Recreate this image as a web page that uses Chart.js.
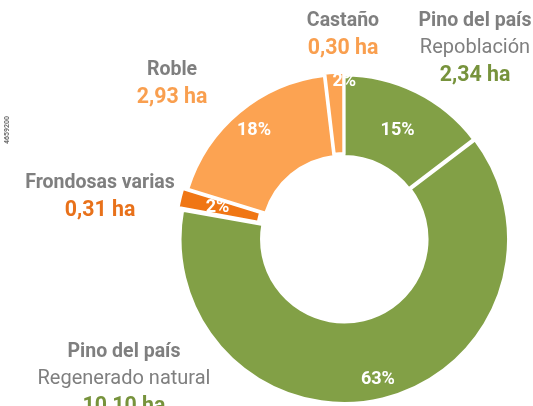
<!DOCTYPE html>
<html>
<head>
<meta charset="utf-8">
<script src="https://cdn.jsdelivr.net/npm/chart.js@4"></script>
<style>
  html, body { margin: 0; padding: 0; background: #fff; }
  #grafico { display: block; }
</style>
</head>
<body>
<canvas id="grafico" width="533" height="406"></canvas>
<script>
// datos (ha)
var especies = ['Pino del país|Repoblación', 'Pino del país|Regenerado natural', 'Frondosas varias', 'Roble', 'Castaño'];
var superficies = [2.34, 10.10, 0.31, 2.93, 0.30];
var colores = ['#82a046', '#82a046', '#f07614', '#fca352', '#fca352'];
var coloresTexto = ['#77933c', '#77933c', '#e8711a', '#f99f4f', '#f99f4f'];

// separacion de cada porcion y sitio del % dentro del anillo (0 = interior, 1 = exterior)
var separacion = [0, 5, 12, 3, 6];
var posicionPct = [0.48, 0.72, 0.45, 0.69, 0.85];
var giroPct = [0, 0, 0, 0, 3.5]; // grados

// sitio de cada etiqueta exterior
var posEtiquetas = [[475, 21], [124, 352], [100, 183], [172, 70], [343, 21]];

var fuenteNegrita = 'Roboto, "Liberation Sans", sans-serif';
var fuenteNormal = 'Roboto, "Open Sans", sans-serif';

function formatoHa(v) {
    return v.toFixed(2).replace('.', ',') + ' ha';
}

// texto algo estrechado, como la letra condensada del original
function texto(ctx, t, x, y, sx) {
    ctx.save();
    ctx.translate(x, y);
    ctx.scale(sx, 1);
    ctx.fillText(t, 0, 0);
    ctx.restore();
}

var etiquetasPlugin = {
    id: 'etiquetas',
    afterDatasetsDraw: function (chart) {
        var ctx = chart.ctx;
        var arcos = chart.getDatasetMeta(0).data;
        var total = superficies.reduce(function (a, b) { return a + b; }, 0);

        ctx.save();
        ctx.textAlign = 'center';
        ctx.textBaseline = 'middle';
        ctx.fillStyle = '#ffffff';
        ctx.font = 'bold 19px ' + fuenteNegrita;
        arcos.forEach(function (arco, i) {
            var p = arco.getProps(['x', 'y', 'startAngle', 'endAngle', 'innerRadius', 'outerRadius'], true);
            var medio = (p.startAngle + p.endAngle) / 2;
            var a = medio + giroPct[i] * Math.PI / 180;
            var r = p.innerRadius + (p.outerRadius - p.innerRadius) * posicionPct[i] + separacion[i];
            var pct = Math.round(superficies[i] / total * 100) + '%';
            texto(ctx, pct, p.x + Math.cos(a) * r, p.y + Math.sin(a) * r, 0.95);
        });

        // etiquetas exteriores
        especies.forEach(function (nombre, i) {
            var partes = nombre.split('|');
            var x = posEtiquetas[i][0];
            var y = posEtiquetas[i][1];
            ctx.fillStyle = '#7f7f7f';
            ctx.font = 'bold 21px ' + fuenteNegrita;
            texto(ctx, partes[0], x, y, 0.93);
            if (partes[1]) {
                y += 27;
                ctx.font = '20px ' + fuenteNormal;
                ctx.fillText(partes[1], x, y);
            }
            y += 27;
            ctx.fillStyle = coloresTexto[i];
            ctx.font = 'bold 22px ' + fuenteNegrita;
            texto(ctx, formatoHa(superficies[i]), x, y, 0.97);
        });

        // referencia lateral
        ctx.translate(7, 130);
        ctx.rotate(-Math.PI / 2);
        ctx.fillStyle = '#6f6f6f';
        ctx.font = 'bold 7px ' + fuenteNegrita;
        ctx.fillText('4659200', 0, 0);
        ctx.restore();
    }
};

var ctx = document.getElementById('grafico').getContext('2d');

var grafico = new Chart(ctx, {
    type: 'doughnut',
    data: {
        labels: especies,
        datasets: [
            {
                data: superficies,
                backgroundColor: colores,
                borderColor: '#ffffff',
                borderWidth: 3,
                offset: separacion
            }
        ]
    },
    options: {
        responsive: false,
        animation: false,
        devicePixelRatio: 1,
        cutout: '50%',
        radius: 163,
        layout: {
            padding: { left: 155, right: 0, top: 70, bottom: 0 }
        },
        plugins: {
            legend: { display: false },
            tooltip: { enabled: false }
        }
    },
    plugins: [etiquetasPlugin]
});
</script>
</body>
</html>
